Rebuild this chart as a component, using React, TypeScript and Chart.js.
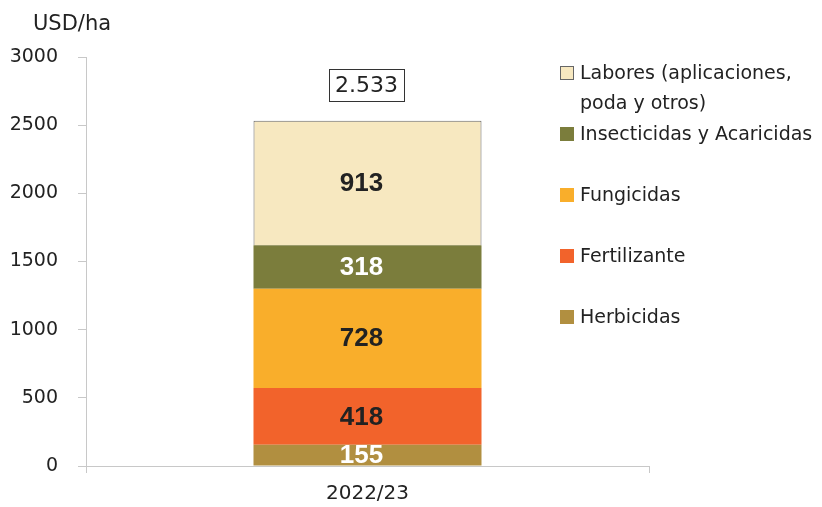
import React, { useEffect, useRef } from "react";
import { Chart, registerables } from "chart.js";

Chart.register(...registerables);

const categories = ["2022/23"];
const seriesNames = [
  "Herbicidas",
  "Fertilizante",
  "Fungicidas",
  "Insecticidas y Acaricidas",
  "Labores (aplicaciones, poda y otros)",
];
const legendLines = [
  ["Herbicidas"],
  ["Fertilizante"],
  ["Fungicidas"],
  ["Insecticidas y Acaricidas"],
  ["Labores (aplicaciones,", "poda y otros)"],
];
const herbicidas = [155];
const fertilizante = [418];
const fungicidas = [728];
const insecticidas = [318];
const labores = [913];
const totalLabels = ["2.533"];
const yTicks = [0, 500, 1000, 1500, 2000, 2500, 3000];

const colors = ["#B18F40", "#F2632B", "#F9AE2B", "#7B7D3C", "#F7E8C0"];
const labelColors = ["#ffffff", "#222222", "#222222", "#ffffff", "#222222"];
const FONT = "'DejaVu Sans', 'Liberation Sans', Arial, sans-serif";
const BOLD_FONT = "'Liberation Sans', Arial, Helvetica, sans-serif";

const overlayPlugin = {
  id: "overlay",
  afterDatasetsDraw(chart: any) {
    const ctx = chart.ctx;
    ctx.save();
    // segment labels
    chart.data.datasets.forEach((ds: any, i: number) => {
      const meta = chart.getDatasetMeta(i);
      meta.data.forEach((bar: any, j: number) => {
        const cy = (bar.y + bar.base) / 2;
        ctx.font = `bold 26px ${BOLD_FONT}`;
        ctx.fillStyle = labelColors[i];
        ctx.textAlign = "center";
        ctx.textBaseline = "middle";
        ctx.fillText(String(ds.data[j]), bar.x - 6, cy + 1);
      });
    });
    // total boxes
    const lastMeta = chart.getDatasetMeta(chart.data.datasets.length - 1);
    lastMeta.data.forEach((bar: any, j: number) => {
      const txt = totalLabels[j];
      ctx.font = `22px ${FONT}`;
      const w = ctx.measureText(txt).width;
      const cy = bar.y - 36;
      ctx.fillStyle = "#222";
      ctx.textAlign = "center";
      ctx.textBaseline = "middle";
      ctx.fillText(txt, bar.x - 1, cy + 1);
      ctx.strokeStyle = "#333";
      ctx.lineWidth = 1;
      ctx.strokeRect(Math.round(bar.x - 1 - w / 2 - 6) + 0.5, Math.round(cy - 16) + 0.5, Math.round(w + 12), 32);
    });
    // axis title
    ctx.font = `21px ${FONT}`;
    ctx.fillStyle = "#222";
    ctx.textAlign = "left";
    ctx.textBaseline = "middle";
    ctx.fillText("USD/ha", 33, 25);
    // legend
    let y = 73;
    for (let i = seriesNames.length - 1; i >= 0; i--) {
      ctx.fillStyle = colors[i];
      ctx.fillRect(560, y - 7, 14, 14);
      if (i === seriesNames.length - 1) {
        ctx.strokeStyle = "#666";
        ctx.lineWidth = 1;
        ctx.strokeRect(560.5, y - 6.5, 13, 13);
      }
      ctx.font = `19px ${FONT}`;
      ctx.fillStyle = "#222";
      ctx.textAlign = "left";
      ctx.textBaseline = "middle";
      legendLines[i].forEach((line, k) => {
        ctx.fillText(line, 580, y + 1 + k * 30);
      });
      y += 61;
    }
    ctx.restore();
  },
};

export default function App() {
  const ref = useRef<HTMLCanvasElement | null>(null);
  useEffect(() => {
    if (!ref.current) return;
    const series = [herbicidas, fertilizante, fungicidas, insecticidas, labores];
    const chart = new Chart(ref.current, {
      type: "bar",
      data: {
        labels: categories,
        datasets: series.map((d, i) => ({
          label: seriesNames[i],
          data: d,
          backgroundColor: colors[i],
          borderColor: i === 4 ? "#666666" : colors[i],
          borderWidth: i === 4 ? 1 : 0,
          categoryPercentage: 0.405,
          barPercentage: 1,
        })),
      },
      options: {
        responsive: false,
        animation: false,
        layout: { padding: { left: 0, right: 173, top: 57, bottom: 0 } },
        plugins: { legend: { display: false }, tooltip: { enabled: false }, title: { display: false } },
        scales: {
          x: {
            stacked: true,
            grid: { drawOnChartArea: false, offset: true, tickLength: 7, color: "#c8c8c8" },
            border: { color: "#c8c8c8" },
            ticks: { color: "#222", font: { family: FONT, size: 20 }, padding: 9 },
            afterFit(scale: any) {
              scale.height = 41;
            },
          },
          y: {
            stacked: true,
            min: 0,
            max: 3000,
            afterBuildTicks(scale: any) {
              scale.ticks = yTicks.map((v) => ({ value: v }));
            },
            grid: { drawOnChartArea: false, tickLength: 8, color: "#c8c8c8" },
            border: { color: "#c8c8c8" },
            ticks: {
              color: "#222",
              font: { family: FONT, size: 19 },
              padding: 20,
              callback: (v: any) => String(v),
            },
            afterFit(scale: any) {
              scale.width = 86;
            },
          },
        },
      },
      plugins: [overlayPlugin],
    });
    return () => chart.destroy();
  }, []);
  return (
    <div style={{ position: "fixed", left: 0, top: 0, width: 822, height: 507, background: "#fff" }}>
      <canvas ref={ref} width={822} height={507} />
    </div>
  );
}
